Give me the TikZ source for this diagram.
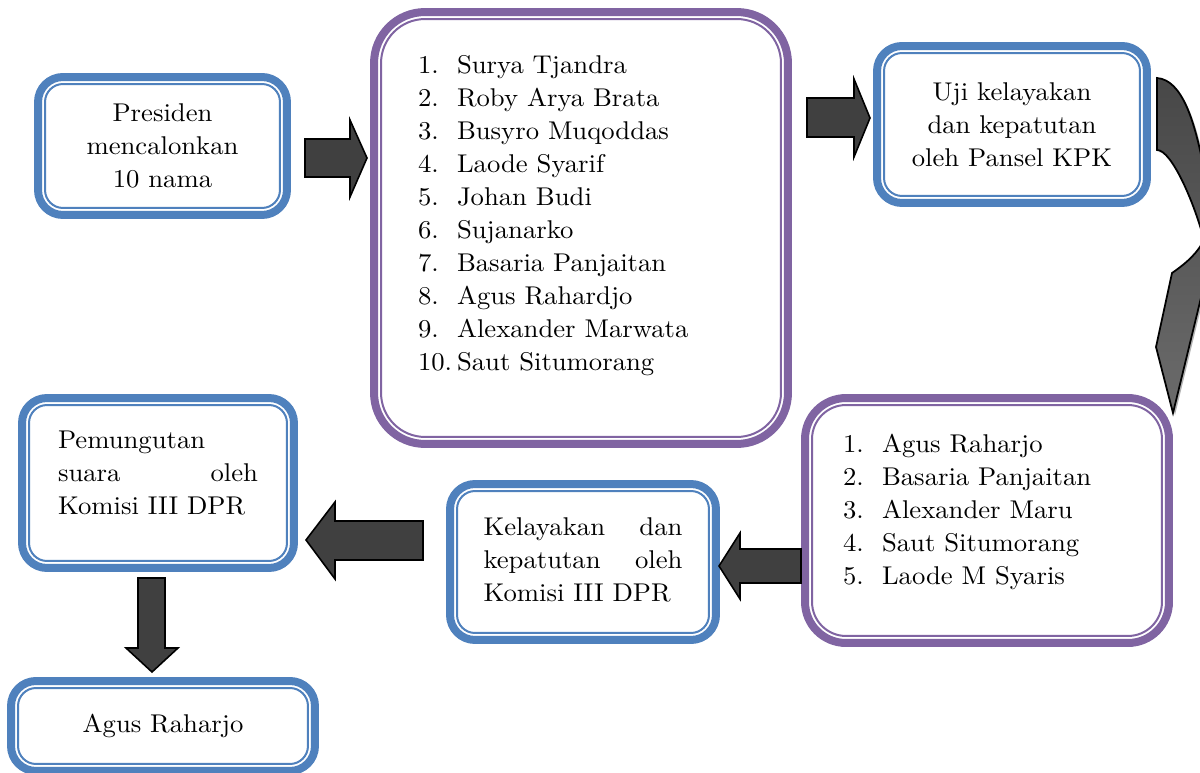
\documentclass[tikz,border=0pt]{standalone}
\usepackage{fontspec}
\setmainfont{lmroman10-regular.otf}[FakeStretch=1.04]
\usetikzlibrary{calc}

\definecolor{biru}{HTML}{4F81BD}
\definecolor{ungu}{HTML}{8064A2}
\definecolor{abugelap}{HTML}{404040}

\newcommand\hurufkotak{\fontsize{14.6}{18.78}\selectfont}

\tikzset{
	kotak/.style={draw=biru, line width=4.55pt, rounded corners=0.5cm, fill=white,
		outer sep=0pt, inner sep=0pt, align=center, font=\hurufkotak},
	kotakdaftar/.style={kotak, draw=ungu},
	blokpanah/.style={draw=black, line width=0.9pt, fill=abugelap, line join=miter},
	lengkungpanah/.style={draw=black, line width=1pt, top color=black!72, bottom color=black!58}
}

\begin{document}
\begin{tikzpicture}[x=0.02cm, y=-0.02cm]
	\useasboundingbox (0,0) rectangle (1200,773);
	\clip (0,0) rectangle (1200,773);
	\fill[white] (0,0) rectangle (1200,773);

	\node[kotak, minimum width=4.98cm, minimum height=2.76cm] (presiden) at (162.5,146)
		{Presiden\\mencalonkan\\10 nama};

	\node[kotakdaftar, rounded corners=1.02cm, minimum width=8.28cm, minimum height=8.64cm] (calon) at (581,228)
		{\begin{tabular}{@{}p{0.78cm}@{}p{5.74cm}@{}}
			1. & Surya Tjandra\\
			2. & Roby Arya Brata\\
			3. & Busyro Muqoddas\\
			4. & Laode Syarif\\
			5. & Johan Budi\\
			6. & Sujanarko\\
			7. & Basaria Panjaitan\\
			8. & Agus Rahardjo\\
			9. & Alexander Marwata\\
			10. & Saut Situmorang\\[0.52cm]
		\end{tabular}};

	\node[kotak, minimum width=5.4cm, minimum height=3.14cm] (pansel) at (1012,124.5)
		{Uji kelayakan\\dan kepatutan\\oleh Pansel KPK};

	\node[kotakdaftar, rounded corners=0.82cm, minimum width=7.28cm, minimum height=4.9cm] (hasil) at (987,520.5)
		{\begin{tabular}{@{}p{0.78cm}@{}p{4.98cm}@{}}
			1. & Agus Raharjo\\
			2. & Basaria Panjaitan\\
			3. & Alexander Maru\\
			4. & Saut Situmorang\\
			5. & Laode M Syaris\\[0.36cm]
		\end{tabular}};

	\node[kotak, minimum width=5.32cm, minimum height=3.12cm] (dpr) at (583,562)
		{\begin{tabular}{@{}p{3.98cm}@{}}
			Kelayakan\hfill dan\\
			kepatutan\hfill oleh\\
			Komisi III DPR
		\end{tabular}};

	\node[kotak, minimum width=5.44cm, minimum height=3.4cm] (voting) at (158,483)
		{\begin{tabular}{@{}p{4cm}@{}}
			Pemungutan\\
			suara\hfill oleh\\
			Komisi III DPR\\[0.32cm]
		\end{tabular}};

	\node[kotak, minimum width=6.08cm, minimum height=1.8cm] (terpilih) at (163,726) {Agus Raharjo};

	% garis tipis di dalam
	\foreach \n/\w/\r in {presiden/biru/0.36cm, calon/ungu/0.88cm, pansel/biru/0.36cm, hasil/ungu/0.68cm,
		dpr/biru/0.36cm, voting/biru/0.36cm, terpilih/biru/0.36cm}
		\draw[draw=\w, line width=1.14pt, rounded corners=\r]
		([shift={(0.14cm,-0.14cm)}]\n.north west) rectangle ([shift={(-0.14cm,0.14cm)}]\n.south east);

	% panah blok
	\draw[blokpanah] (305,139) -- ++(45,0) -- ++(0,-19) -- ++(17,38) -- ++(-17,39) -- ++(0,-20) -- ++(-45,0) -- cycle;
	\draw[blokpanah] (807,98) -- ++(47,0) -- ++(0,-19) -- ++(16,39) -- ++(-16,39) -- ++(0,-20) -- ++(-47,0) -- cycle;
	\draw[blokpanah] (801,549) -- ++(-61,0) -- ++(0,-16) -- ++(-21,33) -- ++(21,33) -- ++(0,-16) -- ++(61,0) -- cycle;
	\draw[blokpanah] (423,521) -- ++(-88,0) -- ++(0,-19) -- ++(-29,38) -- ++(29,39) -- ++(0,-19) -- ++(88,0) -- cycle;
	\draw[blokpanah] (138,578) -- ++(27,0) -- ++(0,70) -- ++(13,0) -- ++(-26,24) -- ++(-26,-24) -- ++(12,0) -- cycle;

	% panah lengkung
	\def\lengkung{(1157,78) .. controls (1182,80) and (1195,120) .. (1205,175) -- (1215,240) -- (1173,413)
		-- (1156,347) -- (1172,273) .. controls (1188,262) and (1198,252) .. (1204,240)
		.. controls (1195,205) and (1172,150) .. (1157,150) -- cycle}
	\fill[black!30, shift={(2,2)}] \lengkung;
	\draw[lengkungpanah] \lengkung;
\end{tikzpicture}
\end{document}
